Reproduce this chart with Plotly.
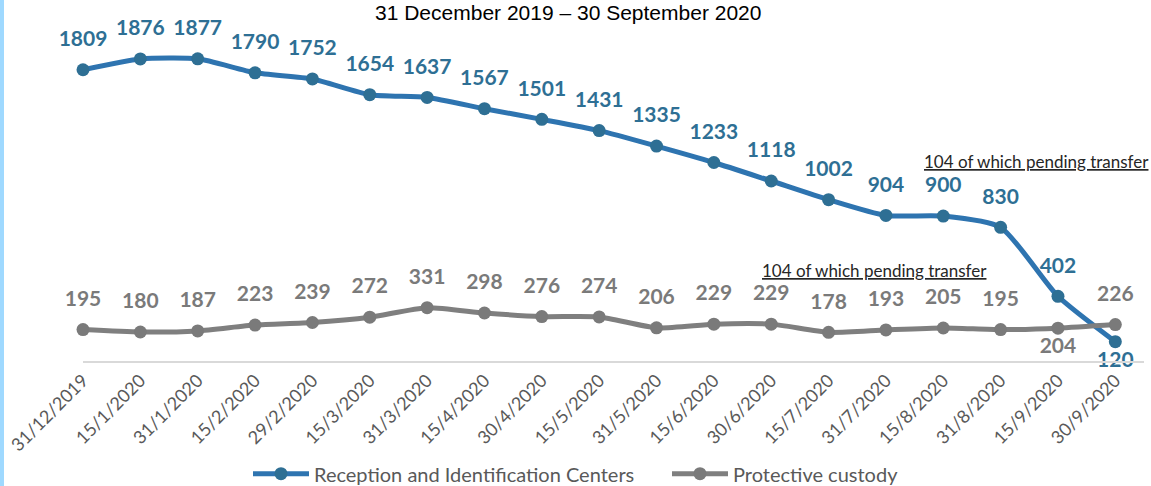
import plotly.graph_objects as go

dates = ["31/12/2019", "15/1/2020", "31/1/2020", "15/2/2020", "29/2/2020", "15/3/2020",
         "31/3/2020", "15/4/2020", "30/4/2020", "15/5/2020", "31/5/2020", "15/6/2020",
         "30/6/2020", "15/7/2020", "31/7/2020", "15/8/2020", "31/8/2020", "15/9/2020",
         "30/9/2020"]
ric = [1809, 1876, 1877, 1790, 1752, 1654, 1637, 1567, 1501, 1431, 1335, 1233,
       1118, 1002, 904, 900, 830, 402, 120]
custody = [195, 180, 187, 223, 239, 272, 331, 298, 276, 274, 206, 229,
           229, 178, 193, 205, 195, 204, 226]

x = list(range(len(dates)))
ric_below = [False] * (len(ric) - 1) + [True]
cus_below = [False] * 17 + [True, False]

BLUE_LINE = "#2e74b0"
BLUE_MARK = "#2e6f94"
GRAY_LINE = "#7f7f7f"
GRAY_MARK = "#7a7a7a"
LABEL_FONT = dict(family="Lato", size=21, weight="bold")

fig = go.Figure()


def add_series(vals, below, name, lcol, mcol):
    fig.add_trace(go.Scatter(
        x=x, y=vals, mode="lines+markers+text", name=name,
        line=dict(color=lcol, width=5, shape="spline", smoothing=0.6),
        marker=dict(color=mcol, size=13),
        text=[str(v) if b else "" for v, b in zip(vals, below)],
        textposition="bottom center",
        textfont=dict(color=mcol, **LABEL_FONT),
        cliponaxis=False,
    ))
    fig.add_trace(go.Scatter(
        x=x, y=vals, mode="markers+text", showlegend=False, hoverinfo="skip",
        marker=dict(color="rgba(0,0,0,0)", size=28),
        text=[str(v) if not b else "" for v, b in zip(vals, below)],
        textposition="top center",
        textfont=dict(color=mcol, **LABEL_FONT),
        cliponaxis=False,
    ))


add_series(ric, ric_below, "Reception and Identification Centers", BLUE_LINE, BLUE_MARK)
add_series(custody, cus_below, "Protective custody", GRAY_LINE, GRAY_MARK)

fig.update_layout(
    width=1151, height=486,
    margin=dict(l=83, r=7, t=39, b=125, autoexpand=False),
    paper_bgcolor="white", plot_bgcolor="white",
    showlegend=True,
    legend=dict(orientation="h", x=(248 - 83) / 1061, xanchor="left", y=-0.35,
                yanchor="middle",
                font=dict(family="Lato", size=20, color="#595959"),
                entrywidth=348, entrywidthmode="pixels", itemwidth=56,
                traceorder="normal"),
    xaxis=dict(tickmode="array", tickvals=x, ticktext=dates, range=[0, 18.5],
               tickangle=-45, showgrid=False, zeroline=False, automargin=False,
               showline=True, linecolor="#d9d9d9", linewidth=2,
               tickfont=dict(family="Lato", size=18, color="#595959"), ticks=""),
    yaxis=dict(range=[0, 2000], visible=False, showgrid=False, zeroline=False,
               automargin=False),
    font=dict(family="Lato"),
)

fig.add_annotation(xref="paper", yref="paper", x=(568 - 83) / 1061, y=1.0, yshift=27,
                   text="31 December 2019 – 30 September 2020", showarrow=False,
                   font=dict(family="Liberation Sans", size=21, color="#000000"),
                   xanchor="center", yanchor="middle")
fig.add_annotation(x=16.62, y=1242, xref="x", yref="y",
                   text="<u>104 of which pending transfer</u>", showarrow=False,
                   font=dict(family="Lato", size=17, color="#262626"), xanchor="center",
                   yanchor="middle")
fig.add_annotation(x=13.8, y=565, xref="x", yref="y",
                   text="<u>104 of which pending transfer</u>", showarrow=False,
                   font=dict(family="Lato", size=17, color="#262626"), xanchor="center",
                   yanchor="middle")

fig.add_shape(type="rect", xref="paper", yref="paper", x0=-83 / 1061, x1=-79 / 1061,
              y0=-125 / 322, y1=1 + 39 / 322,
              fillcolor="#9fd9ff", line=dict(width=0), layer="above")

fig.write_html("out.html", config={"displayModeBar": False},
               post_script="document.body.style.margin='0';document.body.style.overflow='hidden';")
